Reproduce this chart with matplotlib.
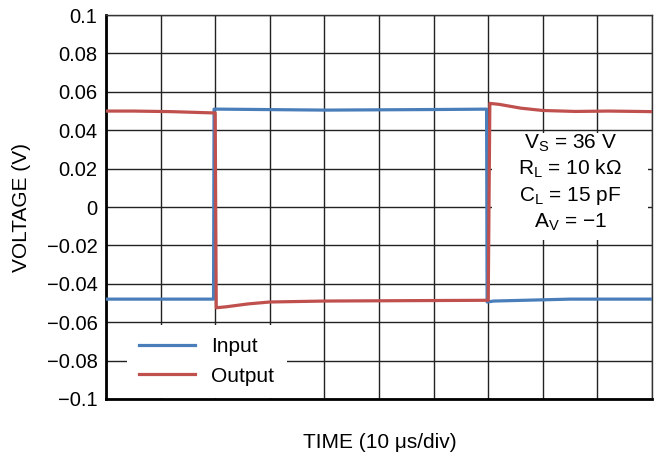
import numpy as np
import matplotlib.pyplot as plt
from matplotlib.patches import Rectangle

plt.rcParams['font.family'] = ['Liberation Sans', 'DejaVu Sans']
plt.rcParams['mathtext.fontset'] = 'custom'
plt.rcParams['mathtext.rm'] = 'Liberation Sans'
plt.rcParams['mathtext.it'] = 'Liberation Sans:italic'

# time in us (10 us/div), voltage in V
input_t = [0, 10, 19.7, 19.8, 21, 40, 60, 69.7, 69.8, 71, 85, 100]
input_v = [-0.048, -0.048, -0.048, 0.051, 0.051, 0.0505, 0.0508, 0.051, -0.0495, -0.049, -0.048, -0.048]

output_t = [0, 5, 12, 20.0, 20.2, 22, 26, 30, 40, 55, 70.0, 70.3, 72, 76, 80, 86, 92, 100]
output_v = [0.050, 0.050, 0.0497, 0.049, -0.0525, -0.052, -0.0505, -0.0495, -0.049, -0.0488, -0.0486, 0.054, 0.0535, 0.0515, 0.0503, 0.0498, 0.050, 0.0497]

yticks = [0.1, 0.08, 0.06, 0.04, 0.02, 0, -0.02, -0.04, -0.06, -0.08, -0.1]
ytick_labels = ['0.1', '0.08', '0.06', '0.04', '0.02', '0', '\u22120.02', '\u22120.04',
                '\u22120.06', '\u22120.08', '\u22120.1']
conditions = [r'V$_\mathrm{S}$ = 36 V', r'R$_\mathrm{L}$ = 10 k$\Omega$',
              r'C$_\mathrm{L}$ = 15 pF', 'A$_\\mathrm{V}$ = \u22121']

fig = plt.figure(figsize=(6.54, 4.58), dpi=100)
ax = fig.add_axes([0.162, 0.129, 0.835, 0.838])

ax.plot(input_t, input_v, color='#4a7ebb', lw=2.3, label='Input', zorder=3)
ax.plot(output_t, output_v, color='#c0504d', lw=2.3, label='Output', zorder=4)

ax.set_xlim(0, 100)
ax.set_ylim(-0.1, 0.1)
ax.set_xticks(np.arange(0, 101, 10))
ax.set_xticklabels([])
ax.set_yticks(yticks)
ax.set_yticklabels(ytick_labels)
ax.tick_params(length=0, labelsize=14.5, pad=6)
ax.grid(True, color='#222222', lw=1.0)
ax.set_axisbelow(True)

for s in ['left', 'bottom']:
    ax.spines[s].set_linewidth(2.0)
    ax.spines[s].set_color('black')
for s in ['top', 'right']:
    ax.spines[s].set_linewidth(1.0)
    ax.spines[s].set_color('#333333')

fig.text(22 / 654, 1 - 207 / 458, 'VOLTAGE (V)', rotation=90, ha='center', va='center', fontsize=15)
fig.text(380 / 654, 1 - 443 / 458, 'TIME (10 \u03bcs/div)', ha='center', va='center', fontsize=15)

leg = ax.legend(loc='upper left', bbox_to_anchor=(0.038, 0.193), fontsize=15,
                frameon=True, fancybox=False, framealpha=1, edgecolor='none',
                handlelength=2.7, handletextpad=0.75, borderpad=0.6, labelspacing=0.5,
                borderaxespad=0)
leg.set_zorder(5)

ax.add_patch(Rectangle((0.707, 0.414), 0.286, 0.279, transform=ax.transAxes,
                       facecolor='white', edgecolor='none', zorder=2))
for i, txt in enumerate(conditions):
    ax.text(0.85, 0.651 - i * 0.068, txt, transform=ax.transAxes, ha='center',
            va='baseline', fontsize=15, zorder=6)

fig.savefig('out.png', dpi=100)
